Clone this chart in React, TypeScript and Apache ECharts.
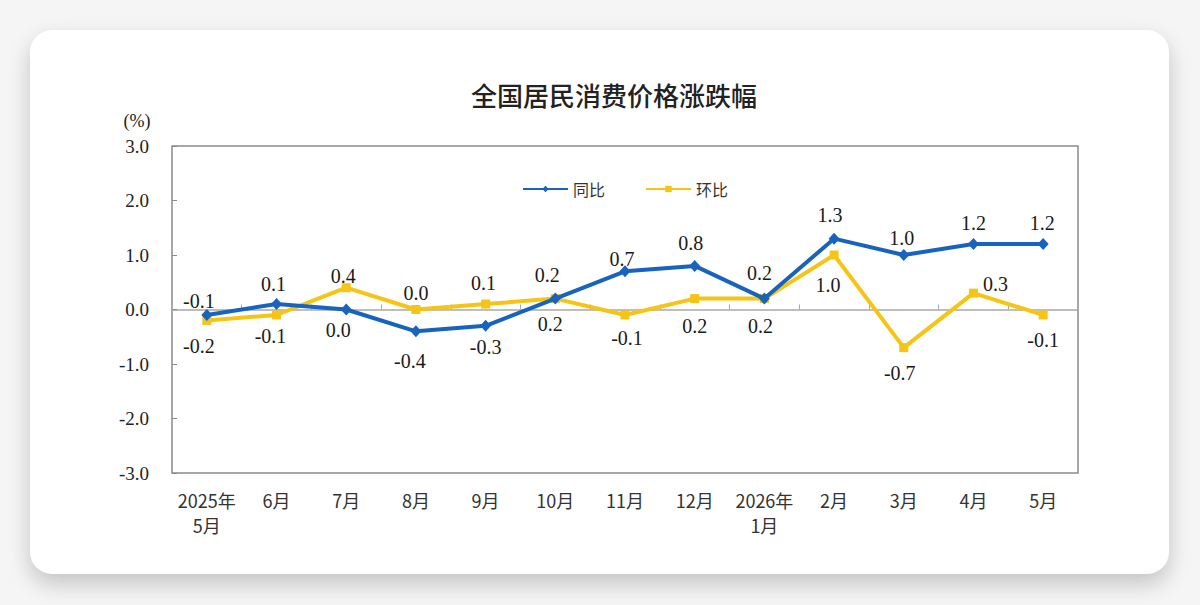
import React, { useEffect, useRef } from "react";
import * as echarts from "echarts";

// Months shown on the category axis
const months = [
  "2025年\n5月", "6月", "7月", "8月", "9月", "10月", "11月", "12月",
  "2026年\n1月", "2月", "3月", "4月", "5月",
];

// Year-on-year change (%)
const yoyValues = [-0.1, 0.1, 0.0, -0.4, -0.3, 0.2, 0.7, 0.8, 0.2, 1.3, 1.0, 1.2, 1.2];

// Month-on-month change (%)
const momValues = [-0.2, -0.1, 0.4, 0.0, 0.1, 0.2, -0.1, 0.2, 0.2, 1.0, -0.7, 0.3, -0.1];

// Y axis range
const yMin = -3;
const yMax = 3;
const yStep = 1;

// Per-point label offsets (px from marker centre) to keep the labels apart
const yoyLabelOffsets: [number, number][] = [
  [-8, -14], [-3, -20], [-8, 20], [-6, 30], [0, 21], [-8, -24], [-3, -12],
  [-4, -23], [-5, -26], [-4, -24], [-2, -17], [0, -21], [-1, -21],
];
const momLabelOffsets: [number, number][] = [
  [-8, 26], [-6, 21], [-3, -12], [0, -17], [-2, -21], [-5, 25], [2, 23],
  [0, 27], [-4, 27], [-6, 30], [-4, 25], [22, -9], [0, 25],
];

const BLUE = "#1763bd";
const YELLOW = "#f6c414";
const SERIF = "'Liberation Serif', 'Times New Roman', serif";
const CJK = "'Noto Sans CJK SC', 'Noto Sans', sans-serif";

function withLabels(values: number[], offsets: [number, number][]) {
  return values.map((v, i) => ({
    value: v,
    label: {
      show: true,
      position: "inside",
      offset: offsets[i],
      formatter: () => v.toFixed(1),
    },
  }));
}

export default function App() {
  const ref = useRef<HTMLDivElement>(null);

  useEffect(() => {
    if (!ref.current) return;
    const chart = echarts.init(ref.current, undefined, { renderer: "svg" });
    const labelStyle = {
      color: "#1a1a1a",
      fontFamily: SERIF,
      fontSize: 20,
      align: "center",
      verticalAlign: "middle",
    };
    chart.setOption({
      animation: false,
      title: {
        text: "全国居民消费价格涨跌幅",
        left: 466,
        top: 76,
        textStyle: {
          fontFamily: CJK,
          fontSize: 26,
          fontWeight: 500,
          color: "#222",
        },
      },
      graphic: [
        {
          type: "text",
          x: 137,
          y: 121,
          style: {
            text: "(%)",
            font: `18px ${SERIF}`,
            fill: "#222",
            align: "center",
            verticalAlign: "middle",
          },
        },
      ],
      legend: {
        left: 517,
        top: 176,
        itemWidth: 45,
        itemHeight: 8,
        itemGap: 40,
        textStyle: { fontFamily: CJK, fontSize: 16, color: "#333" },
        data: ["同比", "环比"],
      },
      grid: {
        left: 172,
        top: 146,
        width: 906,
        height: 327,
        show: true,
        borderColor: "#8a8a8a",
        borderWidth: 1.5,
        backgroundColor: "transparent",
      },
      xAxis: [
        {
          type: "category",
          data: months,
          position: "bottom",
          axisLine: { show: false, onZero: false },
          axisTick: { show: false },
          axisLabel: {
            interval: 0,
            margin: 14,
            fontFamily: CJK,
            fontSize: 18,
            lineHeight: 25,
            color: "#333",
            align: "center",
          },
          splitLine: { show: false },
        },
        {
          type: "category",
          data: months,
          position: "bottom",
          axisLine: { show: true, onZero: true, lineStyle: { color: "#a8a8a8", width: 1.5 } },
          axisTick: { show: true, inside: true, length: 5, lineStyle: { color: "#a8a8a8" } },
          axisLabel: { show: false },
          splitLine: { show: false },
        },
      ],
      yAxis: {
        type: "value",
        min: yMin,
        max: yMax,
        interval: yStep,
        axisLine: { show: false },
        axisTick: { show: true, inside: true, length: 5, lineStyle: { color: "#8a8a8a" } },
        splitLine: { show: false },
        axisLabel: {
          margin: 23,
          fontFamily: SERIF,
          fontSize: 19,
          color: "#222",
          formatter: (v: number) => v.toFixed(1),
        },
      },
      series: [
        {
          name: "同比",
          type: "line",
          xAxisIndex: 0,
          data: withLabels(yoyValues, yoyLabelOffsets),
          symbol: "diamond",
          symbolSize: [11, 12],
          itemStyle: { color: BLUE },
          lineStyle: { color: BLUE, width: 4 },
          label: labelStyle,
          z: 3,
        },
        {
          name: "环比",
          type: "line",
          xAxisIndex: 0,
          data: withLabels(momValues, momLabelOffsets),
          symbol: "rect",
          symbolSize: 9,
          itemStyle: { color: YELLOW },
          lineStyle: { color: YELLOW, width: 4 },
          label: labelStyle,
          z: 2,
        },
      ],
    });
    return () => chart.dispose();
  }, []);

  return (
    <div
      style={{
        position: "fixed",
        left: 0,
        top: 0,
        width: 1200,
        height: 605,
        background: "#f5f5f5",
        overflow: "hidden",
      }}
    >
      <div
        style={{
          position: "absolute",
          left: 30,
          top: 30,
          width: 1139,
          height: 544,
          background: "#ffffff",
          borderRadius: 22,
          boxShadow: "0 10px 22px rgba(0,0,0,0.20)",
        }}
      />
      <div
        ref={ref}
        style={{ position: "absolute", left: 0, top: 0, width: 1200, height: 605 }}
      />
    </div>
  );
}
